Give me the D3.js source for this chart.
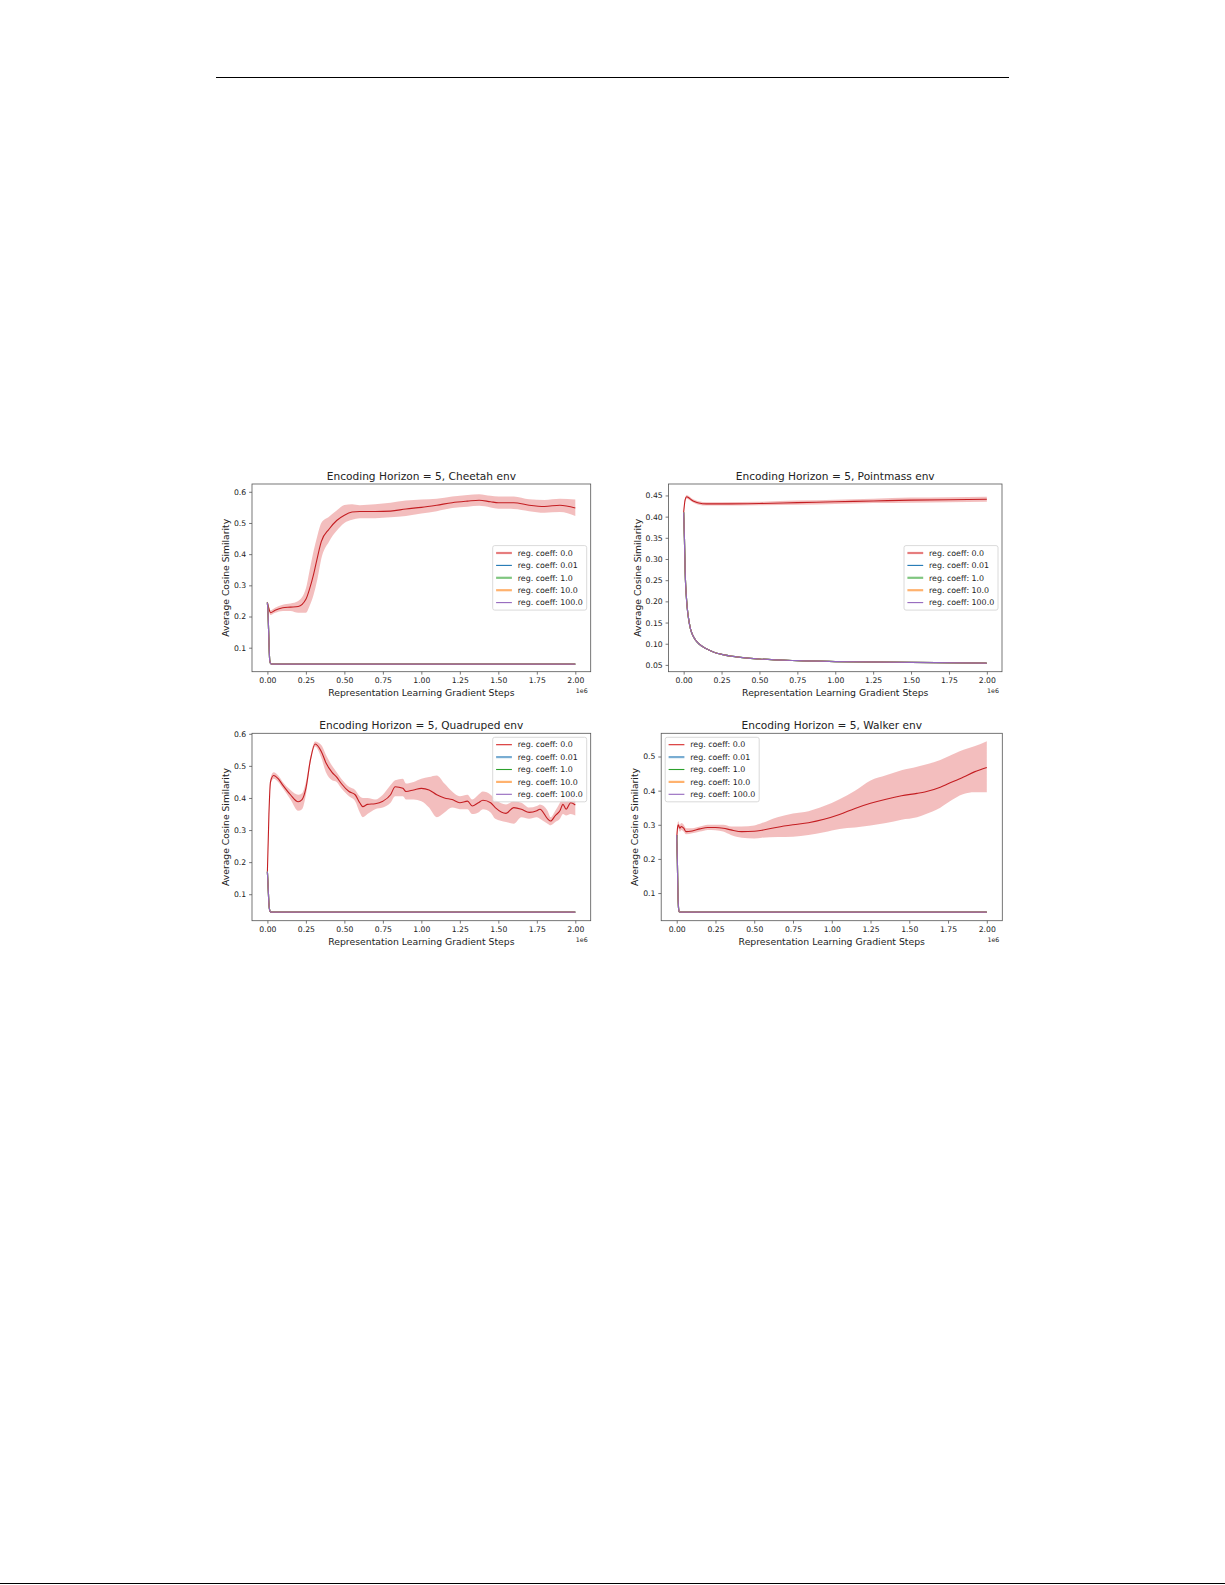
<!DOCTYPE html>
<html lang="en">
<head>
<meta charset="utf-8">
<script src="https://cdnjs.cloudflare.com/ajax/libs/d3/7.8.5/d3.min.js"></script>
<style>
  html, body { margin: 0; padding: 0; background: #fff; }
  svg { display: block; }
</style>
</head>
<body>
<script>
// ---- data (x in units of 1e6 gradient steps) ----
var coeffLabels = ["reg. coeff: 0.0", "reg. coeff: 0.01", "reg. coeff: 1.0", "reg. coeff: 10.0", "reg. coeff: 100.0"]
var coeffColors = ["#d62728", "#1f77b4", "#2ca02c", "#ff7f0e", "#9467bd"]
var xTicks = [0, 0.25, 0.5, 0.75, 1.0, 1.25, 1.5, 1.75, 2.0]

// Cheetah
var cheetahX    = [0, 0.01, 0.02, 0.05, 0.1, 0.15, 0.2, 0.25, 0.275, 0.3, 0.325, 0.35, 0.4, 0.45, 0.5, 0.55, 0.6, 0.7, 0.8, 0.9, 1.0, 1.1, 1.2, 1.3, 1.375, 1.45, 1.5, 1.6, 1.7, 1.8, 1.9, 2.0]
var cheetahMean = [0.245, 0.225, 0.212, 0.22, 0.228, 0.23, 0.232, 0.255, 0.29, 0.335, 0.39, 0.44, 0.48, 0.508, 0.525, 0.535, 0.537, 0.537, 0.538, 0.545, 0.55, 0.557, 0.565, 0.57, 0.573, 0.568, 0.565, 0.565, 0.557, 0.553, 0.557, 0.548]
var cheetahLo   = [0.24, 0.218, 0.205, 0.212, 0.218, 0.218, 0.212, 0.212, 0.235, 0.27, 0.32, 0.385, 0.44, 0.475, 0.5, 0.51, 0.515, 0.515, 0.518, 0.522, 0.53, 0.538, 0.548, 0.552, 0.555, 0.55, 0.546, 0.545, 0.538, 0.533, 0.535, 0.522]
var cheetahHi   = [0.25, 0.232, 0.22, 0.228, 0.238, 0.242, 0.25, 0.29, 0.35, 0.41, 0.46, 0.5, 0.52, 0.54, 0.558, 0.56, 0.557, 0.56, 0.565, 0.572, 0.575, 0.578, 0.585, 0.59, 0.592, 0.587, 0.585, 0.585, 0.576, 0.574, 0.578, 0.575]
var cheetahRegX = [0, 0.005, 0.01, 0.015, 0.02, 0.03, 0.5, 1.0, 1.5, 2.0]
var cheetahReg  = [0.245, 0.2, 0.12, 0.06, 0.05, 0.047, 0.047, 0.047, 0.047, 0.047]
var cheetahYTicks = [0.1, 0.2, 0.3, 0.4, 0.5, 0.6]

// Pointmass
var pointX    = [0, 0.01, 0.02, 0.035, 0.05, 0.075, 0.1, 0.15, 0.25, 0.5, 0.75, 1.0, 1.25, 1.5, 1.75, 2.0]
var pointMean = [0.41, 0.44, 0.447, 0.444, 0.44, 0.435, 0.432, 0.43, 0.43, 0.431, 0.433, 0.435, 0.437, 0.439, 0.44, 0.441]
var pointLo   = [0.407, 0.436, 0.443, 0.44, 0.436, 0.431, 0.428, 0.426, 0.426, 0.427, 0.428, 0.43, 0.432, 0.433, 0.434, 0.435]
var pointHi   = [0.413, 0.444, 0.451, 0.448, 0.444, 0.439, 0.436, 0.434, 0.434, 0.435, 0.438, 0.44, 0.442, 0.445, 0.446, 0.447]
var pointRegX = [0, 0.005, 0.01, 0.02, 0.03, 0.045, 0.06, 0.08, 0.1, 0.15, 0.2, 0.25, 0.35, 0.5, 0.75, 1.0, 1.5, 2.0]
var pointReg  = [0.41, 0.35, 0.27, 0.2, 0.165, 0.135, 0.12, 0.108, 0.1, 0.088, 0.08, 0.075, 0.069, 0.064, 0.06, 0.058, 0.056, 0.054]
var pointYTicks = [0.05, 0.10, 0.15, 0.20, 0.25, 0.30, 0.35, 0.40, 0.45]

// Quadruped
var quadX    = [0, 0.01, 0.02, 0.04, 0.07, 0.1, 0.15, 0.2, 0.225, 0.25, 0.28, 0.31, 0.35, 0.38, 0.42, 0.45, 0.48, 0.53, 0.57, 0.6, 0.62, 0.65, 0.7, 0.75, 0.8, 0.83, 0.88, 0.9, 0.95, 1.0, 1.05, 1.1, 1.15, 1.2, 1.25, 1.3, 1.33, 1.37, 1.4, 1.45, 1.48, 1.55, 1.6, 1.65, 1.7, 1.75, 1.77, 1.82, 1.84, 1.87, 1.9, 1.92, 1.94, 1.97, 2.0]
var quadMean = [0.17, 0.35, 0.45, 0.47, 0.46, 0.44, 0.41, 0.388, 0.395, 0.43, 0.52, 0.568, 0.545, 0.51, 0.48, 0.465, 0.445, 0.42, 0.41, 0.385, 0.373, 0.38, 0.382, 0.39, 0.41, 0.435, 0.43, 0.42, 0.425, 0.43, 0.425, 0.41, 0.4, 0.395, 0.385, 0.39, 0.375, 0.385, 0.393, 0.385, 0.37, 0.352, 0.37, 0.365, 0.355, 0.36, 0.365, 0.335, 0.328, 0.345, 0.36, 0.38, 0.365, 0.385, 0.378]
var quadLo   = [0.165, 0.34, 0.44, 0.46, 0.45, 0.43, 0.395, 0.36, 0.365, 0.41, 0.51, 0.56, 0.525, 0.48, 0.455, 0.45, 0.43, 0.405, 0.39, 0.355, 0.34, 0.35, 0.365, 0.37, 0.385, 0.405, 0.405, 0.395, 0.395, 0.39, 0.37, 0.34, 0.355, 0.37, 0.365, 0.365, 0.35, 0.355, 0.365, 0.355, 0.335, 0.325, 0.32, 0.34, 0.335, 0.34, 0.335, 0.32, 0.315, 0.325, 0.335, 0.35, 0.345, 0.35, 0.345]
var quadHi   = [0.175, 0.36, 0.46, 0.48, 0.47, 0.45, 0.425, 0.41, 0.415, 0.45, 0.53, 0.576, 0.565, 0.535, 0.5, 0.48, 0.46, 0.435, 0.425, 0.405, 0.4, 0.4, 0.395, 0.41, 0.44, 0.455, 0.46, 0.445, 0.45, 0.46, 0.465, 0.47, 0.445, 0.42, 0.405, 0.41, 0.395, 0.41, 0.42, 0.41, 0.395, 0.38, 0.39, 0.385, 0.37, 0.375, 0.38, 0.36, 0.34, 0.36, 0.385, 0.405, 0.39, 0.405, 0.395]
var quadRegX = [0, 0.005, 0.01, 0.015, 0.02, 0.03, 1.0, 2.0]
var quadReg  = [0.17, 0.12, 0.07, 0.05, 0.045, 0.044, 0.044, 0.044]
var quadYTicks = [0.1, 0.2, 0.3, 0.4, 0.5, 0.6]

// Walker
var walkerX    = [0, 0.005, 0.01, 0.02, 0.03, 0.045, 0.06, 0.1, 0.15, 0.2, 0.25, 0.3, 0.35, 0.42, 0.5, 0.55, 0.65, 0.75, 0.85, 0.95, 1.05, 1.15, 1.25, 1.35, 1.45, 1.55, 1.6, 1.7, 1.75, 1.85, 1.92, 2.0]
var walkerMean = [0.26, 0.29, 0.3, 0.29, 0.295, 0.29, 0.28, 0.282, 0.288, 0.292, 0.292, 0.29, 0.285, 0.28, 0.281, 0.284, 0.293, 0.3, 0.306, 0.316, 0.33, 0.348, 0.363, 0.375, 0.385, 0.392, 0.396, 0.41, 0.42, 0.44, 0.455, 0.468]
var walkerLo   = [0.25, 0.28, 0.29, 0.28, 0.285, 0.28, 0.272, 0.275, 0.28, 0.285, 0.284, 0.28, 0.27, 0.262, 0.26, 0.262, 0.264, 0.265, 0.27, 0.278, 0.288, 0.292, 0.298, 0.305, 0.315, 0.322, 0.33, 0.35, 0.365, 0.39, 0.395, 0.395]
var walkerHi   = [0.27, 0.3, 0.31, 0.3, 0.305, 0.3, 0.29, 0.29, 0.295, 0.3, 0.3, 0.3, 0.295, 0.295, 0.298, 0.305, 0.322, 0.333, 0.34, 0.355, 0.375, 0.4, 0.43, 0.445, 0.46, 0.47, 0.476, 0.49, 0.5, 0.52, 0.53, 0.545]
var walkerRegX = [0, 0.004, 0.008, 0.012, 0.016, 0.025, 1.0, 2.0]
var walkerReg  = [0.27, 0.2, 0.1, 0.055, 0.045, 0.044, 0.044, 0.044]
var walkerYTicks = [0.1, 0.2, 0.3, 0.4, 0.5]

// ---- layout ----
var W = 1225, H = 1585
var font = "DejaVu Sans, sans-serif"
var axisColor = "#555"
var textColor = "#222"
var tickLen = 2.9, tickPad = 2.9

var panels = [
  {title: "Encoding Horizon = 5, Cheetah env", x: cheetahX, mean: cheetahMean, lo: cheetahLo, hi: cheetahHi,
   regX: cheetahRegX, reg: cheetahReg, yTicks: cheetahYTicks, yFmt: ".1f", yDom: [0.023, 0.625],
   box: [252, 484, 590.7, 671.7], legend: "centerright", thick: [1, 0, 1, 1, 0]},
  {title: "Encoding Horizon = 5, Pointmass env", x: pointX, mean: pointMean, lo: pointLo, hi: pointHi,
   regX: pointRegX, reg: pointReg, yTicks: pointYTicks, yFmt: ".2f", yDom: [0.034, 0.477],
   box: [668.5, 484, 1002, 671.7], legend: "centerright", thick: [1, 0, 1, 1, 0]},
  {title: "Encoding Horizon = 5, Quadruped env", x: quadX, mean: quadMean, lo: quadLo, hi: quadHi,
   regX: quadRegX, reg: quadReg, yTicks: quadYTicks, yFmt: ".1f", yDom: [0.0175, 0.6015],
   box: [252, 733.3, 590.7, 920.7], legend: "upperright", thick: [0, 1, 0, 1, 0]},
  {title: "Encoding Horizon = 5, Walker env", x: walkerX, mean: walkerMean, lo: walkerLo, hi: walkerHi,
   regX: walkerRegX, reg: walkerReg, yTicks: walkerYTicks, yFmt: ".1f", yDom: [0.019, 0.568],
   box: [661.2, 733.3, 1002.3, 920.7], legend: "upperleft", thick: [0, 1, 0, 1, 0]}
]

var svg = d3.select("body").append("svg")
  .attr("width", W).attr("height", H)
  .attr("viewBox", [0, 0, W, H])
  .attr("font-family", font)

// page rules
svg.append("line").attr("x1", 216).attr("x2", 1009).attr("y1", 77.5).attr("y2", 77.5)
  .attr("stroke", "#000").attr("stroke-width", 1.1)
svg.append("line").attr("x1", 0).attr("x2", W).attr("y1", 1583.5).attr("y2", 1583.5)
  .attr("stroke", "#000").attr("stroke-width", 1)

panels.forEach(drawPanel)

function drawPanel(p) {
  var [x0, y0, x1, y1] = p.box
  var x = d3.scaleLinear().domain([-0.1, 2.1]).range([x0, x1])
  var y = d3.scaleLinear().domain(p.yDom).range([y1, y0])
  var g = svg.append("g")

  var clipId = "clip" + Math.round(x0) + "_" + Math.round(y0)
  g.append("clipPath").attr("id", clipId).append("rect")
    .attr("x", x0).attr("y", y0).attr("width", x1 - x0).attr("height", y1 - y0)
  var plot = g.append("g").attr("clip-path", `url(#${clipId})`)

  var idx = d3.range(p.x.length)
  // band
  plot.append("path")
    .attr("fill", coeffColors[0]).attr("fill-opacity", 0.3)
    .attr("d", d3.area().curve(d3.curveMonotoneX)
      .x(i => x(p.x[i])).y0(i => y(p.lo[i])).y1(i => y(p.hi[i]))(idx))
  // mean of coeff 0.0
  plot.append("path")
    .attr("fill", "none").attr("stroke", "#c41e22").attr("stroke-width", 1.1)
    .attr("d", d3.line().curve(d3.curveMonotoneX)
      .x(i => x(p.x[i])).y(i => y(p.mean[i]))(idx))
  // the four regularised runs (overlapping)
  var ridx = d3.range(p.regX.length)
  coeffColors.slice(1).forEach(c => {
    plot.append("path")
      .attr("fill", "none").attr("stroke", c).attr("stroke-width", 1.2)
      .attr("d", d3.line().curve(d3.curveMonotoneX)
        .x(i => x(p.regX[i])).y(i => y(p.reg[i]))(ridx))
  })

  // axes
  var xAxis = g.append("g").attr("transform", `translate(0,${y1})`)
    .call(d3.axisBottom(x).tickValues(xTicks).tickFormat(d3.format(".2f")).tickSize(tickLen).tickPadding(tickPad))
  var yAxis = g.append("g").attr("transform", `translate(${x0},0)`)
    .call(d3.axisLeft(y).tickValues(p.yTicks).tickFormat(d3.format(p.yFmt)).tickSize(tickLen).tickPadding(tickPad))
  ;[xAxis, yAxis].forEach(a => {
    a.select(".domain").remove()
    a.selectAll(".tick line").attr("stroke", axisColor).attr("stroke-width", 0.8)
    a.selectAll(".tick text").attr("fill", textColor).attr("font-size", 7.7).attr("font-family", font)
  })

  // frame
  g.append("rect").attr("x", x0).attr("y", y0).attr("width", x1 - x0).attr("height", y1 - y0)
    .attr("fill", "none").attr("stroke", axisColor).attr("stroke-width", 0.8)

  // title
  g.append("text").attr("x", (x0 + x1) / 2).attr("y", y0 - 4.3)
    .attr("text-anchor", "middle").attr("font-size", 10.6).attr("fill", textColor)
    .text(p.title)

  // x label and offset text
  g.append("text").attr("x", (x0 + x1) / 2).attr("y", y1 + 24.3)
    .attr("text-anchor", "middle").attr("font-size", 9.3).attr("fill", textColor)
    .text("Representation Learning Gradient Steps")
  g.append("text").attr("x", x1 - 3).attr("y", y1 + 21)
    .attr("text-anchor", "end").attr("font-size", 6.3).attr("fill", textColor)
    .text("1e6")

  // y label, placed left of the widest tick label
  var maxW = d3.max(yAxis.selectAll(".tick text").nodes(), n => n.getBBox().width)
  var ly = x0 - tickLen - tickPad - maxW - 4.8
  g.append("text").attr("transform", `translate(${ly},${(y0 + y1) / 2}) rotate(-90)`)
    .attr("text-anchor", "middle").attr("font-size", 9.2).attr("fill", textColor)
    .text("Average Cosine Similarity")

  drawLegend(g, p, x0, y0, x1, y1)
}

function drawLegend(g, p, x0, y0, x1, y1) {
  var lw = 94, lh = 64.5, pad = 4
  var lx = p.legend === "upperleft" ? x0 + pad : x1 - pad - lw
  var ly = p.legend === "centerright" ? (y0 + y1) / 2 - lh / 2 : y0 + pad
  var lg = g.append("g").attr("transform", `translate(${lx},${ly})`)
  lg.append("rect").attr("width", lw).attr("height", lh).attr("rx", 2)
    .attr("fill", "#fff").attr("fill-opacity", 0.85)
    .attr("stroke", "#d0d0d0").attr("stroke-width", 0.8)
  coeffLabels.forEach((lab, i) => {
    var cy = 7.4 + i * 12.4
    lg.append("line").attr("x1", 3.4).attr("x2", 19.2).attr("y1", cy).attr("y2", cy)
      .attr("stroke", coeffColors[i])
      .attr("stroke-width", p.thick[i] ? 2.2 : 1.1)
      .attr("stroke-opacity", p.thick[i] ? 0.6 : 1)
    lg.append("text").attr("x", 25).attr("y", cy).attr("dy", "0.35em")
      .attr("font-size", 7.9).attr("fill", textColor).text(lab)
  })
}
</script>
</body>
</html>
